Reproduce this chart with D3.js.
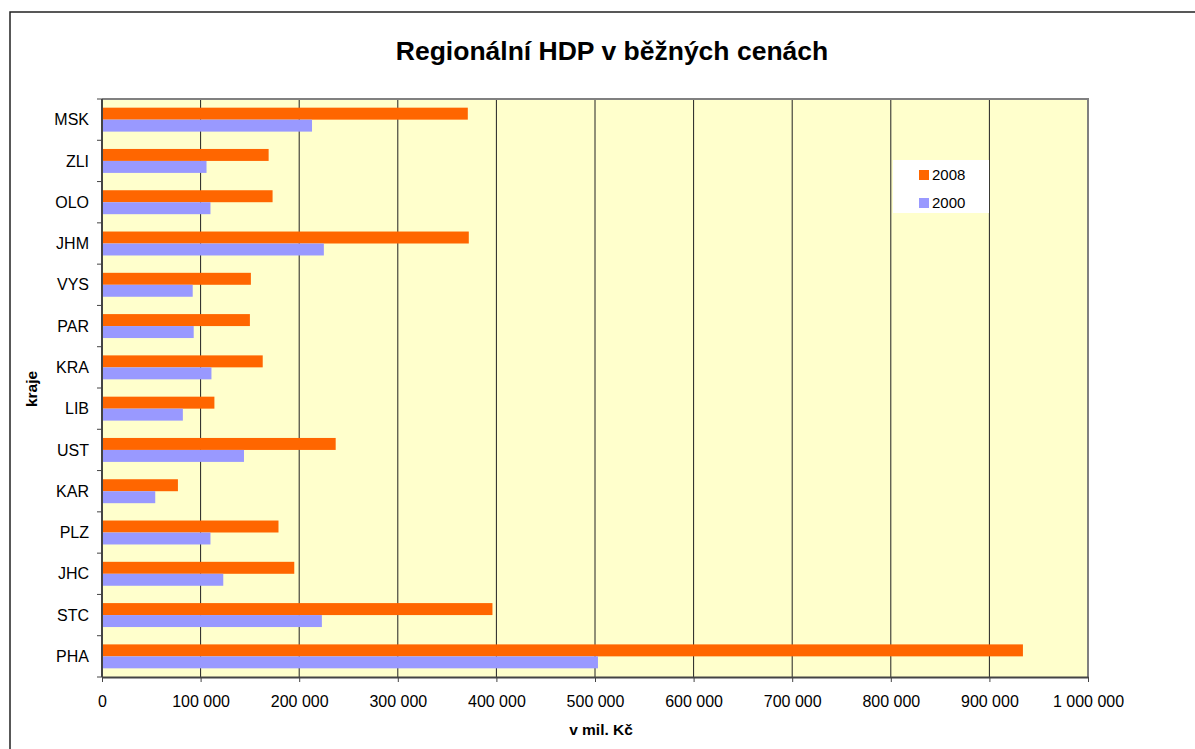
<!DOCTYPE html>
<html>
<head>
<meta charset="utf-8">
<script src="https://d3js.org/d3.v7.min.js"></script>
<style>
  body { margin: 0; background: #fff; }
  svg text { font-family: "Liberation Sans", Arial, sans-serif; }
</style>
</head>
<body>
<svg id="chart" width="1195" height="749"></svg>
<script>
// categories top to bottom, as shown
const regions = ["MSK", "ZLI", "OLO", "JHM", "VYS", "PAR", "KRA", "LIB", "UST", "KAR", "PLZ", "JHC", "STC", "PHA"];
const hdp2008 = [371000, 169000, 173000, 372000, 151000, 150000, 163000, 114000, 237000, 77000, 179000, 195000, 396000, 934000];
const hdp2000 = [213000, 106000, 110000, 225000, 92000, 93000, 111000, 82000, 144000, 54000, 110000, 123000, 223000, 503000];
const seriesNames = ["2008", "2000"];
const xTicks = [0, 100000, 200000, 300000, 400000, 500000, 600000, 700000, 800000, 900000, 1000000];

const colors = { "2008": "#ff6600", "2000": "#9999ff" };

const svg = d3.select("#chart");
const plotLeft = 102, plotRight = 1088, plotTop = 99, plotBottom = 677;

// outer chart frame
svg.append("rect")
    .attr("x", 10).attr("y", 12).attr("width", 1200).attr("height", 760)
    .attr("fill", "#fff").attr("stroke", "#222").attr("stroke-width", 1.5);

svg.append("text")
    .attr("x", 612).attr("y", 60)
    .attr("text-anchor", "middle")
    .style("font-size", "26.5px").style("font-weight", "bold")
    .text("Regionální HDP v běžných cenách");

const x = d3.scaleLinear().domain([0, 1000000]).range([plotLeft, plotRight]);
const y = d3.scaleBand().domain(regions).range([plotTop, plotBottom]).paddingInner(0.42).paddingOuter(0.21);
const ySub = d3.scaleBand().domain(seriesNames).range([0, y.bandwidth()]);

// plot background
svg.append("rect")
    .attr("x", plotLeft).attr("y", plotTop).attr("width", plotRight - plotLeft).attr("height", plotBottom - plotTop)
    .attr("fill", "#ffffcc");

// vertical grid
svg.append("g")
    .selectAll("line")
    .data(xTicks.slice(1, -1))
    .join("line")
    .attr("x1", d => x(d)).attr("x2", d => x(d))
    .attr("y1", plotTop).attr("y2", plotBottom)
    .attr("stroke", "#222").attr("stroke-width", 1);

// plot border top & right
svg.append("path")
    .attr("d", `M${plotLeft},${plotTop}H${plotRight}V${plotBottom}`)
    .attr("fill", "none").attr("stroke", "#808080").attr("stroke-width", 2);

const rows = regions.map((r, i) => ({ region: r, "2008": hdp2008[i], "2000": hdp2000[i] }));

svg.append("g")
    .selectAll("g")
    .data(rows)
    .join("g")
    .attr("transform", d => `translate(0,${y(d.region)})`)
    .selectAll("rect")
    .data(d => seriesNames.map(s => ({ s, v: d[s] })))
    .join("rect")
    .attr("x", x(0))
    .attr("y", d => ySub(d.s))
    .attr("width", d => x(d.v) - x(0))
    .attr("height", ySub.bandwidth())
    .attr("fill", d => colors[d.s]);

// x axis
const fmt = d => d3.format(",")(d).replace(/,/g, " ");
const xAxis = svg.append("g")
    .attr("transform", `translate(0,${plotBottom})`)
    .call(d3.axisBottom(x).tickValues(xTicks).tickFormat(fmt).tickSizeInner(5).tickSizeOuter(0).tickPadding(14));
xAxis.select(".domain").attr("stroke", "#444").attr("stroke-width", 2);
xAxis.selectAll(".tick line").attr("stroke", "#444");
xAxis.selectAll("text").style("font-size", "16px").attr("fill", "#000");

// y axis with ticks at band boundaries
const yAxis = svg.append("g").attr("transform", `translate(${plotLeft},0)`);
yAxis.append("line")
    .attr("x1", 0).attr("x2", 0).attr("y1", plotTop).attr("y2", plotBottom)
    .attr("stroke", "#444").attr("stroke-width", 2);
const bounds = d3.range(regions.length + 1).map(i => plotTop + i * (plotBottom - plotTop) / regions.length);
yAxis.selectAll("line.tk")
    .data(bounds)
    .join("line")
    .attr("class", "tk")
    .attr("x1", -5).attr("x2", 0)
    .attr("y1", d => d).attr("y2", d => d)
    .attr("stroke", "#444");
yAxis.selectAll("text")
    .data(regions)
    .join("text")
    .attr("x", -13)
    .attr("y", d => y(d) + y.bandwidth() / 2)
    .attr("dy", "0.35em")
    .attr("text-anchor", "end")
    .style("font-size", "16px")
    .text(d => d);

// axis titles
svg.append("text")
    .attr("x", 601).attr("y", 735)
    .attr("text-anchor", "middle")
    .style("font-size", "15.5px").style("font-weight", "bold")
    .text("v mil. Kč");

svg.append("text")
    .attr("transform", "translate(37,389) rotate(-90)")
    .attr("text-anchor", "middle")
    .style("font-size", "15.5px").style("font-weight", "bold")
    .text("kraje");

// legend
const legend = svg.append("g").attr("transform", "translate(893,160)");
legend.append("rect").attr("width", 96).attr("height", 53).attr("fill", "#fff");
seriesNames.forEach((s, i) => {
    legend.append("rect")
        .attr("x", 26).attr("y", 10 + i * 28).attr("width", 10).attr("height", 10)
        .attr("fill", colors[s]);
    legend.append("text")
        .attr("x", 39).attr("y", 15 + i * 28).attr("dy", "0.35em")
        .style("font-size", "15px")
        .text(s);
});
</script>
</body>
</html>
